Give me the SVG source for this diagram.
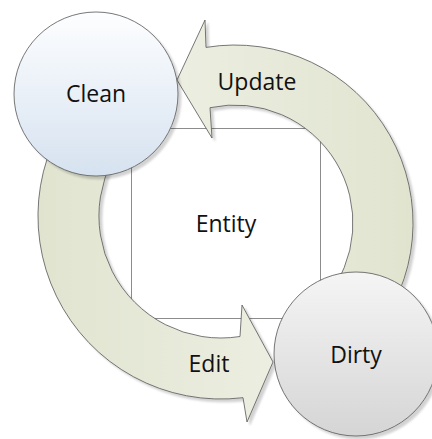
<svg xmlns="http://www.w3.org/2000/svg" width="432" height="439" viewBox="0 0 432 439">
  <style>
    .lbl { font-family: "Open Sans", "Liberation Sans", sans-serif; font-size: 23px; fill: #111; text-anchor: middle; }
    .edge { stroke: #555; stroke-width: 0.8; }
    .box { fill: #fff; stroke: #8c8c8c; stroke-width: 1; }
  </style>
  <defs>
    <filter id="sh" x="-10%" y="-10%" width="130%" height="130%">
      <feGaussianBlur in="SourceAlpha" stdDeviation="1.2"/>
      <feOffset dx="3" dy="3"/>
      <feComponentTransfer><feFuncA type="linear" slope="0.18"/></feComponentTransfer>
      <feMerge><feMergeNode/><feMergeNode in="SourceGraphic"/></feMerge>
    </filter>
    <linearGradient id="gUpd" x1="0" y1="0" x2="1" y2="0">
      <stop offset="0" stop-color="#eceee1"/>
      <stop offset="1" stop-color="#e0e4cf"/>
    </linearGradient>
    <linearGradient id="gEdit" x1="0" y1="0" x2="1" y2="0">
      <stop offset="0" stop-color="#e0e4cf"/>
      <stop offset="1" stop-color="#eceee1"/>
    </linearGradient>
    <linearGradient id="gClean" x1="0" y1="0" x2="0" y2="1">
      <stop offset="0" stop-color="#fdfeff"/>
      <stop offset="1" stop-color="#d6e2f0"/>
    </linearGradient>
    <linearGradient id="gDirty" x1="0" y1="0" x2="0" y2="1">
      <stop offset="0" stop-color="#f5f5f5"/>
      <stop offset="1" stop-color="#d5d5d5"/>
    </linearGradient>
  </defs>

  <g id="node-entity">
    <rect class="box" x="131.5" y="128.5" width="189" height="190"/>
    <text class="lbl" x="226" y="232">Entity</text>
  </g>

  <g id="connectors">
    <g id="edge-update">
      <path class="edge" fill="url(#gUpd)" filter="url(#sh)" d="M 206,47.4 A 178 178 0 0 1 371.4,337.4 L 325.4,298.8 A 118 118 0 0 0 210,107.7 L 212,138 L 177,80 L 205,20 Z"/>
      <text class="lbl" x="257" y="90">Update</text>
    </g>
    <g id="edge-edit">
      <path class="edge" fill="url(#gEdit)" filter="url(#sh)" d="M 91.6,86.6 A 183 183 0 0 0 243,397.7 L 247,422 L 273,362 L 242,305 L 240,336.5 A 122 122 0 0 1 134.7,129.7 Z"/>
      <text class="lbl" x="209" y="372">Edit</text>
    </g>
  </g>

  <g id="node-clean">
    <circle class="edge" cx="96" cy="94" r="82" fill="url(#gClean)" filter="url(#sh)"/>
    <text class="lbl" x="96" y="102">Clean</text>
  </g>

  <g id="node-dirty">
    <circle class="edge" cx="356" cy="354" r="82" fill="url(#gDirty)" filter="url(#sh)"/>
    <text class="lbl" x="356" y="363">Dirty</text>
  </g>
</svg>
